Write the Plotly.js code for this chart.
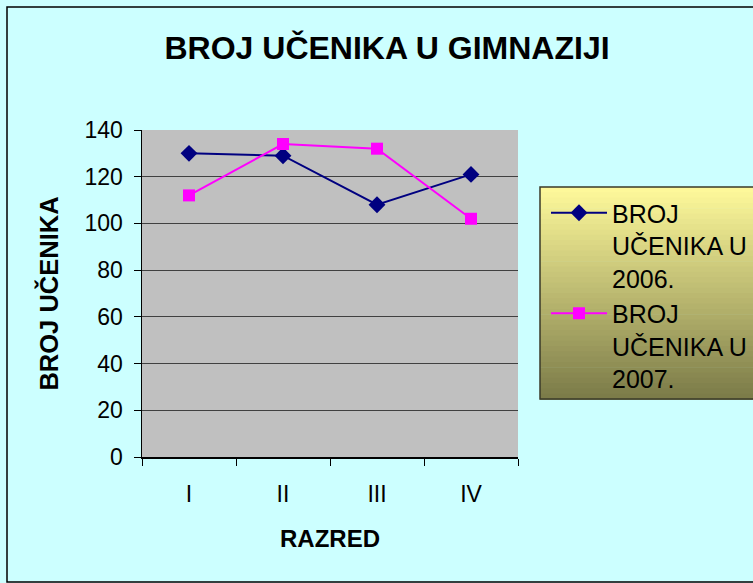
<!DOCTYPE html>
<html>
<head>
<meta charset="utf-8">
<script src="https://cdn.plot.ly/plotly-3.0.1.min.js"></script>
<style>
html,body{margin:0;padding:0;background:#fff;}
#chart{width:753px;height:583px;}
</style>
</head>
<body>
<div id="chart"></div>
<script>
var categories = ['I', 'II', 'III', 'IV'];
var series2006 = [130, 129, 108, 121];
var series2007 = [112, 134, 132, 102];
var seriesNames = ['BROJ<br>UČENIKA U<br>2006.', 'BROJ<br>UČENIKA U<br>2007.'];
var yTicks = [0, 20, 40, 60, 80, 100, 120, 140];

var traces = [
  {
    x: categories, y: series2006, name: seriesNames[0], type: 'scatter', mode: 'lines+markers',
    line: {color: '#000080', width: 2},
    marker: {symbol: 'diamond', size: 13, color: '#000080'}
  },
  {
    x: categories, y: series2007, name: seriesNames[1], type: 'scatter', mode: 'lines+markers',
    line: {color: '#FF00FF', width: 2},
    marker: {symbol: 'square', size: 12, color: '#FF00FF'}
  }
];

// gradient legend box drawn as thin bands
var shapes = [];
var bands = 40;
var y0p = (457 - 399) / 327, y1p = (457 - 187) / 327;
var x0p = (540 - 142) / 376, x1p = (770 - 142) / 376;
function mix(a, b, t) { return Math.round(a + (b - a) * t); }
for (var i = 0; i < bands; i++) {
  var t = (i + 0.5) / bands;
  var r = mix(255, 122, t), g = mix(250, 122, t), bl = mix(155, 72, t);
  shapes.push({
    type: 'rect', xref: 'paper', yref: 'paper',
    x0: x0p, x1: x1p,
    y1: y1p - (y1p - y0p) * i / bands,
    y0: y1p - (y1p - y0p) * (i + 1) / bands - 0.002,
    fillcolor: 'rgb(' + r + ',' + g + ',' + bl + ')',
    line: {width: 0}, layer: 'above'
  });
}
shapes.push({
  type: 'rect', xref: 'paper', yref: 'paper', x0: x0p, x1: x1p, y0: y0p, y1: y1p,
  fillcolor: 'rgba(0,0,0,0)', line: {color: '#3a3a28', width: 1.5}, layer: 'above'
});
// outer chart border
shapes.push({
  type: 'rect', xref: 'paper', yref: 'paper',
  x0: (7 - 142) / 376, x1: (760 - 142) / 376, y0: (457 - 582) / 327, y1: (457 - 7) / 327,
  fillcolor: 'rgba(0,0,0,0)', line: {color: '#000000', width: 1.5}, layer: 'below'
});

var layout = {
  width: 753, height: 583,
  paper_bgcolor: '#CCFFFF',
  plot_bgcolor: '#C0C0C0',
  margin: {l: 142, r: 235, t: 130, b: 126, autoexpand: false},
  font: {family: 'Liberation Sans, Arial, sans-serif', color: '#000'},
  title: {
    text: '<b>BROJ UČENIKA U GIMNAZIJI</b>',
    font: {size: 32, family: 'Liberation Sans, Arial, sans-serif', color: '#000'},
    x: 0.514, xanchor: 'center', y: 0.918, yanchor: 'middle'
  },
  xaxis: {
    type: 'category',
    tickson: 'boundaries',
    ticks: 'outside', ticklen: 7, tickcolor: '#000', tickwidth: 1,
    showline: true, linecolor: '#000', linewidth: 1.5, mirror: false,
    showgrid: false, zeroline: false,
    tickfont: {size: 23},
    ticklabelstandoff: 16,
    title: {text: '<b>RAZRED</b>', font: {size: 24}, standoff: 24},
    range: [-0.5, 3.5]
  },
  yaxis: {
    range: [0, 140],
    tickvals: yTicks,
    ticks: 'outside', ticklen: 7, tickcolor: '#000', tickwidth: 1,
    showline: true, linecolor: '#000', linewidth: 1.5,
    showgrid: true, gridcolor: '#404040', gridwidth: 1,
    zeroline: false,
    tickfont: {size: 23},
    ticklabelstandoff: 6,
    title: {text: '<b>BROJ UČENIKA</b>', font: {size: 25.5}, standoff: 18}
  },
  showlegend: true,
  legend: {
    x: (546 - 142) / 376, xanchor: 'left',
    y: (457 - 190) / 327, yanchor: 'top',
    bgcolor: 'rgba(0,0,0,0)',
    borderwidth: 0,
    font: {size: 25, color: '#000'},
    itemwidth: 56,
    valign: 'top',
    tracegroupgap: 6
  },
  shapes: shapes
};

Plotly.newPlot('chart', traces, layout, {displayModeBar: false, staticPlot: true});
</script>
</body>
</html>
